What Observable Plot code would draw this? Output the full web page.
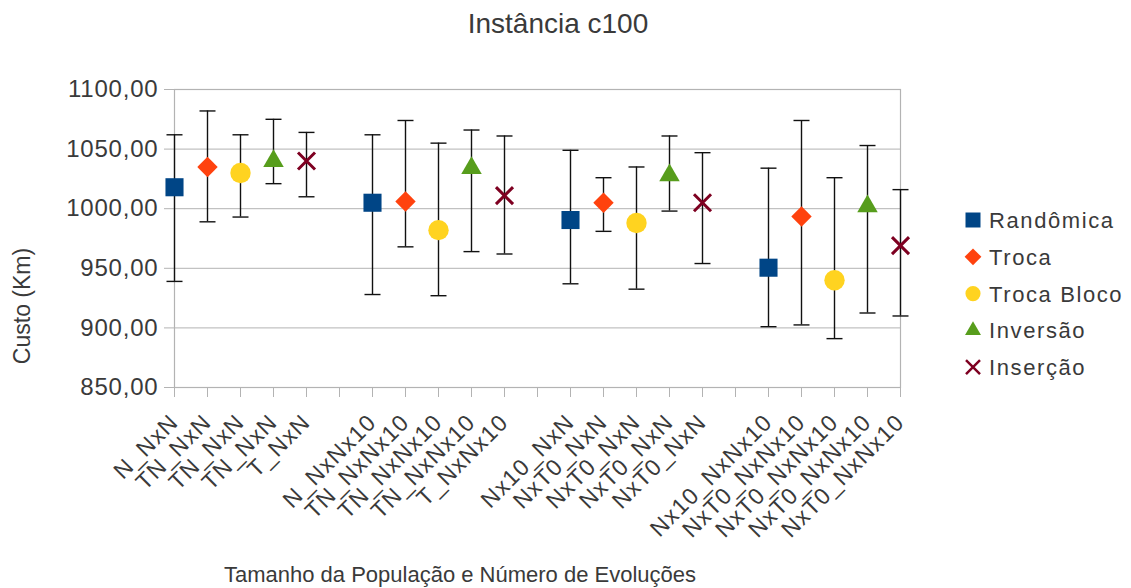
<!DOCTYPE html>
<html>
<head>
<meta charset="utf-8">
<script src="https://cdn.jsdelivr.net/npm/d3@7"></script>
<script src="https://cdn.jsdelivr.net/npm/@observablehq/plot@0.6"></script>
<style>
  html, body { margin: 0; padding: 0; background: #fff; }
  #chart svg { display: block; }
</style>
</head>
<body>
<div id="chart"></div>
<script>
// ---- data ----
const series = ["Randômica", "Troca", "Troca Bloco", "Inversão", "Inserção"];
const tickLabels = [
  "N_NxN", "TN_NxN", "TN_NxN", "TN_NxN", "T_NxN", "",
  "N_NxNx10", "TN_NxNx10", "TN_NxNx10", "TN_NxNx10", "T_NxNx10", "",
  "Nx10_NxN", "NxT0_NxN", "NxT0_NxN", "NxT0_NxN", "NxT0_NxN", "",
  "Nx10_NxNx10", "NxT0_NxNx10", "NxT0_NxNx10", "NxT0_NxNx10", "NxT0_NxNx10"
];
// mean per group (rows) and series (columns)
const media = [
  [1018, 1035, 1030, 1040, 1040],
  [1005, 1006, 982, 1034, 1011],
  [990.5, 1005, 988, 1028, 1005],
  [950.5, 993.5, 940, 1002, 969]
];
const maximo = [
  [1062, 1082, 1062, 1075, 1064],
  [1062, 1074, 1055, 1066, 1061],
  [1049, 1026, 1035, 1061, 1047],
  [1034, 1074, 1026, 1053, 1016]
];
const minimo = [
  [939, 989, 993, 1021, 1010],
  [928, 968, 927, 964, 962],
  [937, 981, 932.5, 998, 954],
  [901, 902.5, 891, 912.5, 910]
];
const colors = ["#004586", "#ff420e", "#ffd320", "#579d1c", "#7e0021"];
const yTicks = [850, 900, 950, 1000, 1050, 1100];

// ---- build table ----
const slots = tickLabels.map((_, i) => i);
const rows = [];
media.forEach((g, gi) => g.forEach((m, si) => {
  rows.push({slot: gi * 6 + si, serie: series[si], si, mean: m, hi: maximo[gi][si], lo: minimo[gi][si]});
}));

const cap = {draw(ctx) { ctx.moveTo(-8, 0); ctx.lineTo(8, 0); }};
const symbols = ["square", "diamond2", "circle", "triangle", "times"];
const radii = [10.2, 9.2, 10.2, 7.6, 7.8];

const font = "'Liberation Sans', Arial, sans-serif";
const textColor = "#3a3a3a";
const gray = "#b3b3b3";

const marks = [
  Plot.gridY(yTicks, {stroke: gray, strokeOpacity: 1, strokeWidth: 1}),
  Plot.frame({stroke: gray, strokeWidth: 1.2}),
  Plot.axisY(yTicks, {tickSize: 10, tickPadding: 6, stroke: gray, fill: textColor, fontSize: 24,
    className: "yax", tickFormat: v => v.toFixed(2).replace(".", ","), label: null}),
  Plot.axisX(slots, {tickSize: 10, tickPadding: 21, tickRotate: -45, stroke: gray, fill: textColor, fontSize: 23,
    className: "xax", tickFormat: i => tickLabels[i], label: null}),
  Plot.ruleX(rows, {x: "slot", y1: "lo", y2: "hi", stroke: "#111", strokeWidth: 1.4}),
  Plot.dot(rows, {x: "slot", y: "lo", symbol: cap, stroke: "#111", strokeWidth: 1.4, fill: "none"}),
  Plot.dot(rows, {x: "slot", y: "hi", symbol: cap, stroke: "#111", strokeWidth: 1.4, fill: "none"})
];
series.forEach((s, si) => {
  const data = rows.filter(d => d.si === si);
  if (symbols[si] === "times") {
    marks.push(Plot.dot(data, {x: "slot", y: "mean", symbol: "times", r: radii[si], stroke: colors[si], strokeWidth: 3}));
  } else {
    marks.push(Plot.dot(data, {x: "slot", y: "mean", symbol: symbols[si], r: radii[si], fill: colors[si], stroke: "none"}));
  }
});

const chart = Plot.plot({
  width: 1131,
  height: 588,
  marginLeft: 174,
  marginRight: 231,
  marginTop: 89,
  marginBottom: 201,
  style: {fontFamily: font, background: "#fff", overflow: "visible"},
  x: {type: "point", domain: slots, padding: 0, axis: null},
  y: {domain: [850, 1100], axis: null},
  marks
});

document.getElementById("chart").append(chart);

// ---- titles & legend ----
const svg = d3.select(chart);
svg.selectAll(".xax text").attr("letter-spacing", 1.2);
svg.selectAll(".yax text").attr("letter-spacing", 0.8);
svg.append("text").attr("x", 558).attr("y", 33).attr("text-anchor", "middle")
  .attr("font-size", 28).attr("fill", textColor).attr("font-family", font).text("Instância c100");
svg.append("text").attr("x", 460).attr("y", 582).attr("text-anchor", "middle")
  .attr("font-size", 22).attr("fill", textColor).attr("font-family", font).text("Tamanho da População e Número de Evoluções");
svg.append("text").attr("transform", "translate(30,306) rotate(-90)").attr("text-anchor", "middle")
  .attr("font-size", 23).attr("fill", textColor).attr("font-family", font).text("Custo (Km)");

const legendSym = [d3.symbolSquare, d3.symbolDiamond2, d3.symbolCircle, d3.symbolTriangle, d3.symbolTimes];
const legendSize = [225, 180, 180, 110, 130];
const lg = svg.append("g").attr("text-anchor", "start");
series.forEach((s, i) => {
  const y = 220 + i * 36.8;
  const p = lg.append("path").attr("transform", `translate(973,${y})`)
    .attr("d", d3.symbol(legendSym[i], legendSize[i])());
  if (i === 4) p.attr("fill", "none").attr("stroke", colors[i]).attr("stroke-width", 2.5);
  else p.attr("fill", colors[i]);
  lg.append("text").attr("x", 989).attr("y", y + 8).attr("text-anchor", "start")
    .attr("font-size", 22).attr("letter-spacing", 1.6)
    .attr("fill", textColor).attr("font-family", font).text(s);
});
</script>
</body>
</html>
